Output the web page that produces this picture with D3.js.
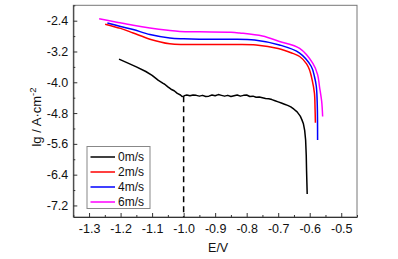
<!DOCTYPE html>
<html><head><meta charset="utf-8">
<script src="https://cdn.jsdelivr.net/npm/d3@7"></script>
<style>
body{margin:0;background:#fff;}
svg text{font-family:"Liberation Sans",Arial,sans-serif;}
</style></head>
<body>
<svg id="c" width="398" height="259"></svg>
<script>
// ---- data ----
const seriesNames = ["0m/s","2m/s","4m/s","6m/s"];
const seriesColors = ["#000000","#ff0000","#0000ff","#ff00ff"];

const E0 = [-1.205,-1.18,-1.15,-1.12,-1.10,-1.08,-1.07,-1.065,-1.06,-1.05,-1.04,-1.03,-1.02,-1.01,-1.005,-1.0,-0.995,-0.99,-0.98,-0.97,-0.96,-0.95,-0.94,-0.93,-0.92,-0.91,-0.90,-0.89,-0.88,-0.87,-0.86,-0.85,-0.84,-0.83,-0.82,-0.81,-0.80,-0.79,-0.78,-0.77,-0.76,-0.75,-0.74,-0.73,-0.72,-0.71,-0.70,-0.69,-0.68,-0.67,-0.66,-0.65,-0.64,-0.63,-0.625,-0.62,-0.616,-0.613,-0.611,-0.610,-0.609,-0.608];
const L0 = [-3.40,-3.49,-3.60,-3.72,-3.82,-3.95,-4.00,-4.03,-4.05,-4.12,-4.18,-4.22,-4.29,-4.33,-4.37,-4.36,-4.34,-4.33,-4.35,-4.33,-4.34,-4.36,-4.34,-4.37,-4.36,-4.33,-4.35,-4.32,-4.34,-4.36,-4.34,-4.37,-4.35,-4.33,-4.36,-4.34,-4.33,-4.37,-4.36,-4.39,-4.38,-4.40,-4.42,-4.43,-4.45,-4.48,-4.51,-4.54,-4.57,-4.60,-4.64,-4.70,-4.77,-4.88,-4.97,-5.08,-5.25,-5.5,-5.9,-6.3,-6.6,-6.9];

const E2 = [-1.249,-1.20,-1.16,-1.107,-1.044,-1.00,-0.95,-0.85,-0.77,-0.70,-0.654,-0.632,-0.61,-0.601,-0.592,-0.585,-0.583,-0.582];
const L2 = [-2.49,-2.60,-2.72,-2.88,-3.00,-3.02,-3.02,-3.02,-3.03,-3.12,-3.25,-3.33,-3.52,-3.67,-3.95,-4.28,-4.70,-5.05];

const E4 = [-1.242,-1.20,-1.16,-1.107,-1.044,-1.00,-0.95,-0.85,-0.775,-0.696,-0.632,-0.595,-0.585,-0.579,-0.576,-0.575];
const L4 = [-2.46,-2.55,-2.63,-2.76,-2.85,-2.87,-2.88,-2.88,-2.90,-3.03,-3.24,-3.59,-3.85,-4.11,-4.60,-5.50];

const E6 = [-1.268,-1.212,-1.16,-1.107,-1.05,-1.012,-0.95,-0.85,-0.822,-0.75,-0.696,-0.632,-0.59,-0.575,-0.569,-0.562,-0.559];
const L6 = [-2.35,-2.44,-2.52,-2.59,-2.65,-2.68,-2.69,-2.70,-2.72,-2.80,-2.94,-3.12,-3.51,-3.80,-4.11,-4.50,-4.89];

const xTicks = [-1.3,-1.2,-1.1,-1.0,-0.9,-0.8,-0.7,-0.6,-0.5];
const xMinor = [-1.35,-1.25,-1.15,-1.05,-0.95,-0.85,-0.75,-0.65,-0.55,-0.45];
const yTicks = [-2.4,-3.2,-4.0,-4.8,-5.6,-6.4,-7.2];
const yMinor = [-2.0,-2.8,-3.6,-4.4,-5.2,-6.0,-6.8];
const dashE = -1.0, dashL = -4.36;

// ---- layout ----
const L = 73.3, T = 5.3, R = 357, B = 217;
const svg = d3.select("#c");
const x = d3.scaleLinear().domain([-1.35,-0.45]).range([L,R]);
const y = d3.scaleLinear().domain([-7.5,-2.0]).range([B,T]);
const fmt = d => d3.format(".1f")(d).replace("\u2212","-");

// frame
svg.append("rect").attr("x",L).attr("y",T).attr("width",R-L).attr("height",B-T)
  .attr("fill","none").attr("stroke","#777").attr("stroke-width",1);

// axes
svg.append("g").attr("transform",`translate(0,${B})`)
  .call(d3.axisBottom(x).tickValues(xTicks).tickFormat(fmt).tickSizeInner(-4).tickSizeOuter(0).tickPadding(7));
svg.append("g").attr("transform",`translate(0,${B})`)
  .call(d3.axisBottom(x).tickValues(xMinor).tickFormat("").tickSizeInner(-2).tickSizeOuter(0))
  .select(".domain").remove();
svg.append("g").attr("transform",`translate(${L},0)`)
  .call(d3.axisLeft(y).tickValues(yTicks).tickFormat(fmt).tickSizeInner(-4).tickSizeOuter(0).tickPadding(5));
svg.append("g").attr("transform",`translate(${L},0)`)
  .call(d3.axisLeft(y).tickValues(yMinor).tickFormat("").tickSizeInner(-2).tickSizeOuter(0))
  .select(".domain").remove();
svg.selectAll(".domain").attr("stroke","#333");
svg.selectAll(".tick line").attr("stroke","#333");
svg.selectAll(".tick text").attr("font-size","12.5px").attr("fill","#111")
  .attr("font-family","'Liberation Sans',Arial,sans-serif");

// axis labels
svg.append("text").attr("x",(L+R)/2+3).attr("y",252).attr("text-anchor","middle")
  .attr("font-size","12.5px").attr("fill","#111").text("E/V");
const yl = svg.append("text").attr("transform","translate(41,117) rotate(-90)")
  .attr("text-anchor","middle").attr("font-size","13px").attr("fill","#111");
yl.append("tspan").text("lg / A\u00b7cm");
yl.append("tspan").attr("font-size","9.5px").attr("dy","-5").text("-2");

// dashed line
svg.append("line").attr("x1",x(dashE)).attr("x2",x(dashE)).attr("y1",y(dashL)).attr("y2",B)
  .attr("stroke","#000").attr("stroke-width",1.5).attr("stroke-dasharray","6,4");

// series
const seriesE = [E0,E2,E4,E6];
const seriesL = [L0,L2,L4,L6];
const line = d3.line().x(d=>x(d[0])).y(d=>y(d[1]));
seriesE.forEach((es,i)=>{
  const pts = es.map((e,j)=>[e, seriesL[i][j]]);
  svg.append("path").datum(pts)
    .attr("d", line.curve(i===0 ? d3.curveLinear : d3.curveCatmullRom.alpha(0.5)))
    .attr("fill","none").attr("stroke",seriesColors[i]).attr("stroke-width",1.5)
    .attr("stroke-linejoin","round");
});

// legend
const lg = svg.append("g");
lg.append("rect").attr("x",87).attr("y",146.5).attr("width",63).attr("height",62)
  .attr("fill","#fff").attr("stroke","#888").attr("stroke-width",1);
seriesNames.forEach((n,i)=>{
  const yy = 157 + i*15;
  lg.append("line").attr("x1",90.5).attr("x2",115).attr("y1",yy).attr("y2",yy)
    .attr("stroke",seriesColors[i]).attr("stroke-width",1.5);
  lg.append("text").attr("x",118).attr("y",yy+4.3).attr("font-size","12px").attr("fill","#111").text(n);
});
</script>
</body></html>
